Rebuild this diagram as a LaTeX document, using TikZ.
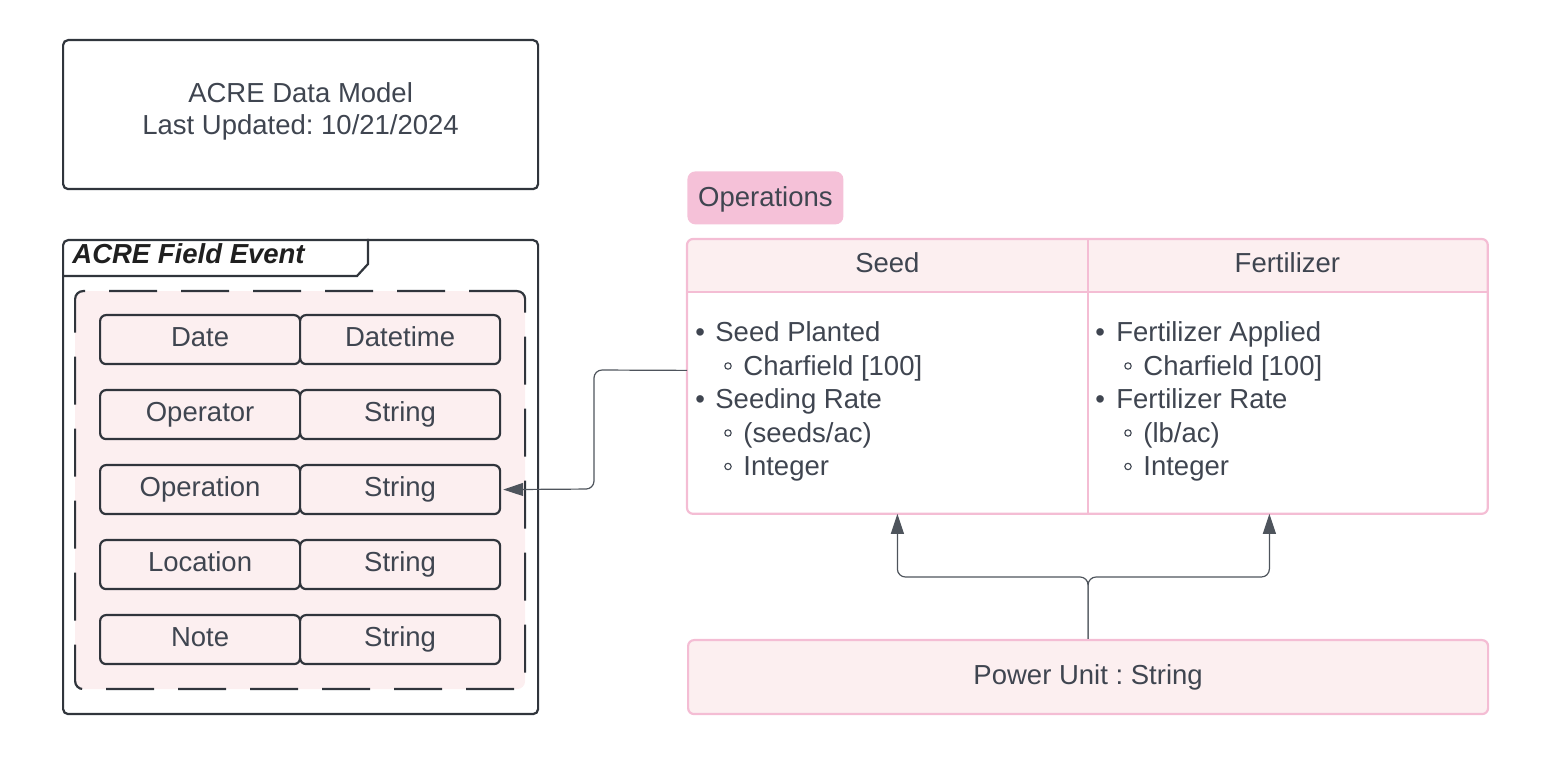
\documentclass[tikz,border=0pt]{standalone}
\usepackage{fontspec}
\setmainfont{Liberation Sans}
\frenchspacing
\usetikzlibrary{arrows.meta,backgrounds,calc}
\definecolor{txt}{HTML}{3F4550}
\definecolor{dark}{HTML}{30353C}
\definecolor{pinkline}{HTML}{F4BDD4}
\definecolor{lpink}{HTML}{FCEFF0}
\definecolor{opspink}{HTML}{F5C1D8}
\definecolor{conncol}{HTML}{4E545C}
\tikzset{
  every node/.style={font=\fontsize{13.75}{16}\selectfont, text=txt},
  lbl/.style={text height=9.9pt, text depth=2.9pt, inner sep=0pt},
  darkbox/.style={draw=dark, line width=1.1pt, rounded corners=2.5pt},
  cellbox/.style={draw=dark, line width=1.1pt, rounded corners=3pt, fill=lpink,
    minimum width=100pt, minimum height=24.5pt, anchor=north west, lbl},
  pinkbox/.style={draw=pinkline, line width=1.1pt, rounded corners=3pt, fill=lpink, lbl},
  colbox/.style={minimum width=200pt, anchor=north west, lbl, inner sep=0pt},
  li/.style={anchor=base west, inner sep=0pt},
  conn/.style={draw=conncol, line width=0.6pt, rounded corners=4pt,
    -{Triangle[length=10pt,width=6.5pt]}, fill=none},
}
\begin{document}
\begin{tikzpicture}[x=0.5pt,y=-0.5pt]
\useasboundingbox (0,0) rectangle (1560,780);

% title box
\node[darkbox, minimum width=237.5pt, minimum height=74.5pt, anchor=north west,
  align=center, text depth=5.9pt, font=\fontsize{13.75}{16}\selectfont] (title) at (62,39)
  {ACRE Data Model\\Last Updated: 10/21/2024};

% field event frame
\node[darkbox, minimum width=237.5pt, minimum height=237pt, anchor=north west] (frame) at (62,239) {};
\draw[dark, line width=1.1pt] ([yshift=-18.5pt]frame.north west) -- ++(295,0) -- ++(11,-12) -- ++(0,-25);
\node[li, text=black!88, font=\fontsize{13.75}{16}\selectfont\bfseries\itshape] (ftitle) at (72,263.5) {ACRE Field Event};

\node[draw=dark, line width=1.1pt, dash pattern=on 24pt off 12pt, rounded corners=4pt, fill=lpink,
  minimum width=225pt, minimum height=199pt, anchor=north west] (inner) at (74,290) {};

\foreach \k/\v [count=\n] in {Date/Datetime, Operator/String, Operation/String, Location/String, Note/String}{
  \node[cellbox] (k\n) at (99,{314+75*(\n-1)}) {\k};
  \node[cellbox] (v\n) at (299,{314+75*(\n-1)}) {\v};
}

% operations label
\node[fill=opspink, rounded corners=4pt, minimum width=78pt, minimum height=26.5pt,
  anchor=north west, lbl, text height=11.4pt] (ops) at (687,171) {Operations};

% table
\node[colbox, minimum height=26pt] (seedhdr) at (687,239) {Seed};
\node[colbox, minimum height=26pt] (ferthdr) at (1087,239) {Fertilizer};
\node[colbox, minimum height=111pt] (seedbody) at (687,291) {};
\node[colbox, minimum height=111pt] (fertbody) at (1087,291) {};
\begin{scope}[on background layer]
  \fill[lpink, rounded corners=3pt] (seedhdr.south west) -- (seedhdr.north west) -- (ferthdr.north east) -- (ferthdr.south east);
\end{scope}
\draw[pinkline, line width=1.1pt, rounded corners=3pt] (seedhdr.north west) rectangle (fertbody.south east);
\draw[pinkline, line width=1.1pt] (seedhdr.south west) -- (ferthdr.south east);
\draw[pinkline, line width=1.1pt] (seedhdr.north east) -- (seedbody.south east);

% lists
\foreach \t/\lv/\y [count=\n] in {Seed Planted/1/342, Charfield [100]/2/375.5, Seeding Rate/1/409, {(seeds/ac)}/2/442.5, Integer/2/476}{
  \ifnum\lv=1
    \node[li] (s\n) at (695,\y) {\makebox[10pt][l]{•}\t};
  \else
    \node[li] (s\n) at (743,\y) {\t};
    \draw[txt, line width=0.55pt] (728,\y-9.5) circle[radius=1.6pt];
  \fi
}
\foreach \t/\lv/\y [count=\n] in {Fertilizer Applied/1/342, Charfield [100]/2/375.5, Fertilizer Rate/1/409, {(lb/ac)}/2/442.5, Integer/2/476}{
  \ifnum\lv=1
    \node[li] (f\n) at (1095,\y) {\makebox[10.5pt][l]{•}\t};
  \else
    \node[li] (f\n) at (1143,\y) {\t};
    \draw[txt, line width=0.55pt] (1128,\y-9.5) circle[radius=1.6pt];
  \fi
}

% power unit
\node[pinkbox, minimum width=400pt, minimum height=37pt, anchor=north west] (power) at (687,639) {Power Unit : String};

% connectors
\draw[conn] ([yshift=16pt]seedbody.west) -- (594,370) -- (594,489) -- ([xshift=1pt]v3.east);
\draw[conn] (power.north) -- ++(0,-62) -| ([xshift=5pt]seedbody.south);
\draw[conn] (power.north) -- ++(0,-62) -| ([xshift=-9pt]fertbody.south);
\end{tikzpicture}
\end{document}
